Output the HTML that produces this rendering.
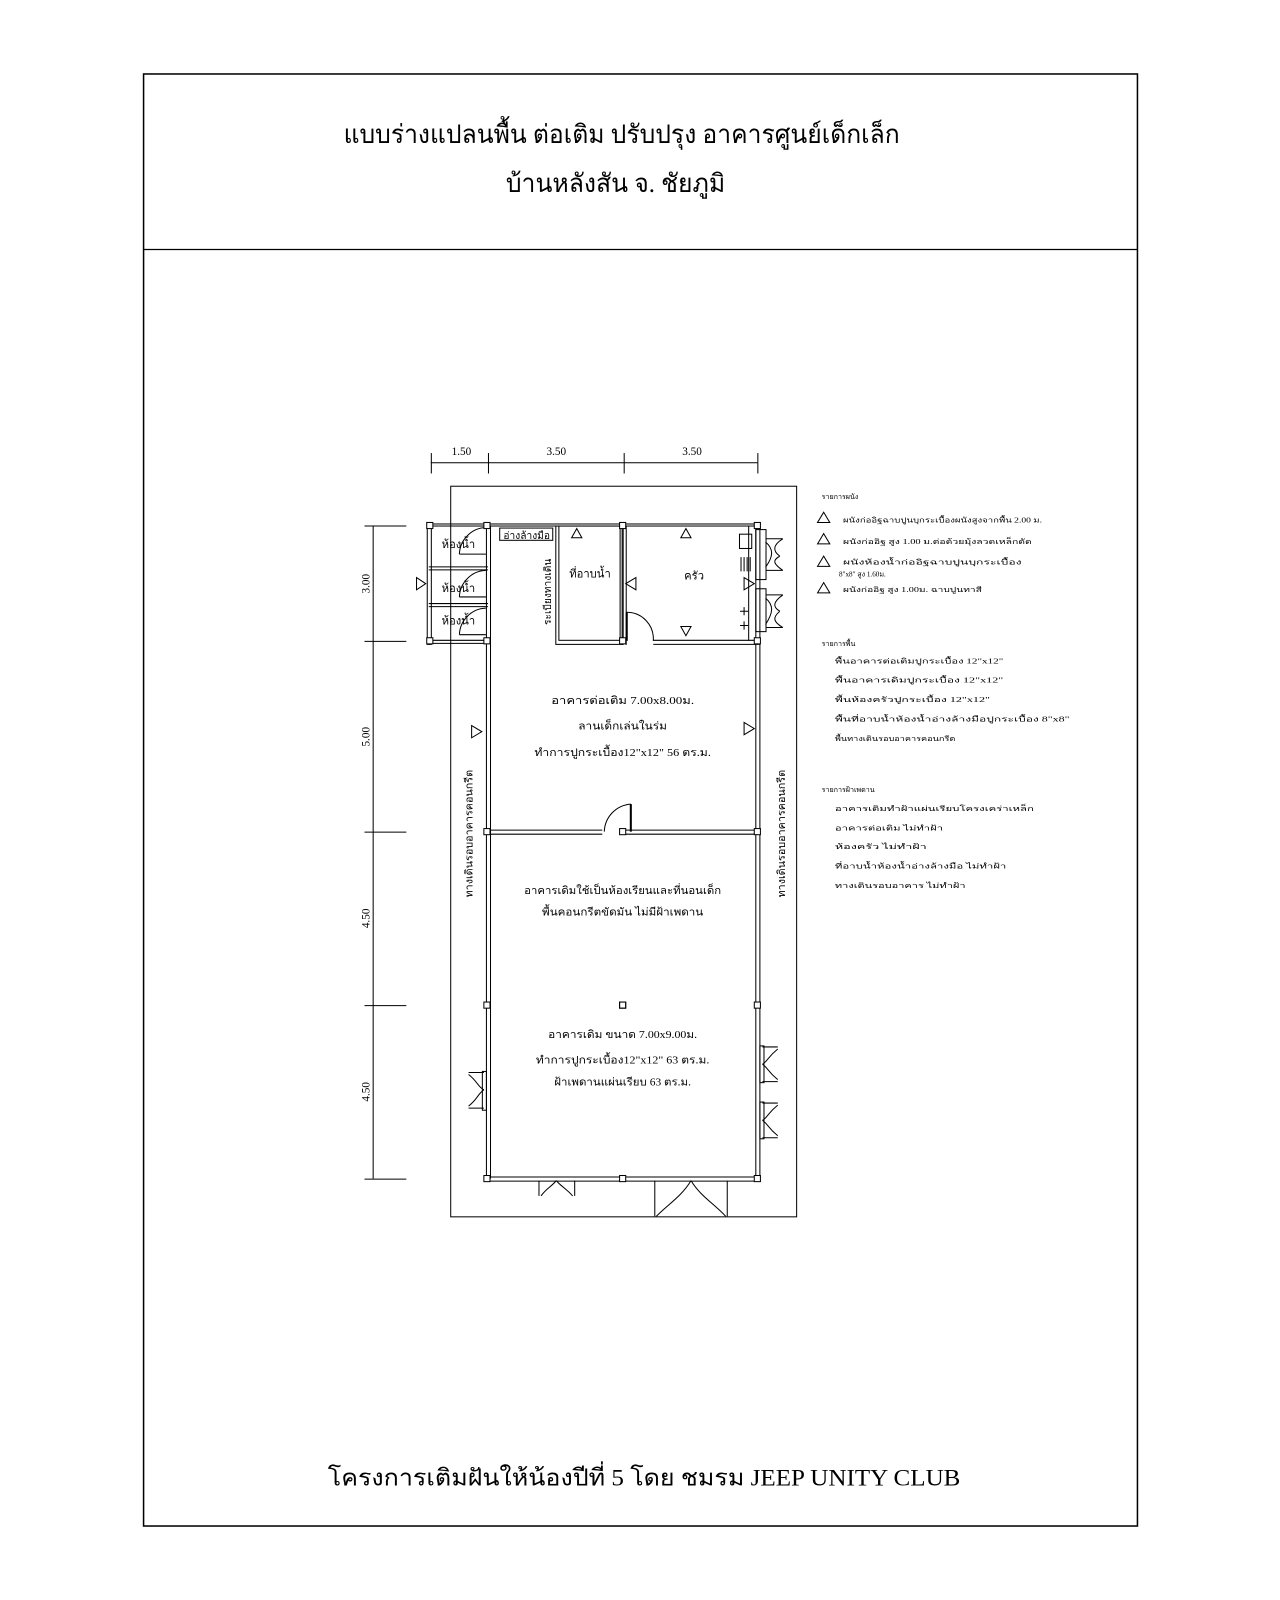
<!DOCTYPE html>
<html><head><meta charset="utf-8"><style>
html,body{margin:0;padding:0;background:#fff;width:1280px;height:1600px;overflow:hidden}
svg{display:block}
text{font-family:"Liberation Serif","DejaVu Serif",serif;fill:#000}
</style></head><body>
<svg width="1280" height="1600" viewBox="0 0 1254 1568" xmlns="http://www.w3.org/2000/svg">
<g fill="none" stroke="#000">
<rect x="140.5" y="72.5" width="974" height="1423" stroke-width="1.5"/>
<line x1="140" y1="244.5" x2="1114" y2="244.5" stroke-width="1.2"/>
</g>
<text x="609" y="140" font-size="25" text-anchor="middle" textLength="545" lengthAdjust="spacingAndGlyphs">แบบร่างแปลนพื้น ต่อเติม ปรับปรุง อาคารศูนย์เด็กเล็ก</text>
<text x="603" y="188" font-size="25" text-anchor="middle" textLength="215" lengthAdjust="spacingAndGlyphs">บ้านหลังสัน จ. ชัยภูมิ</text>
<text x="631" y="1456" font-size="23" text-anchor="middle" textLength="620" lengthAdjust="spacingAndGlyphs">โครงการเติมฝันให้น้องปีที่ 5 โดย ชมรม JEEP UNITY CLUB</text>

<g fill="none" stroke="#000" stroke-width="1">
<!-- site boundary -->
<rect x="441.5" y="476.5" width="339" height="716"/>
<!-- top dims -->
<line x1="422" y1="453.5" x2="742" y2="453.5"/>
<line x1="422.5" y1="444" x2="422.5" y2="464"/><line x1="478.5" y1="444" x2="478.5" y2="464"/>
<line x1="611.5" y1="444" x2="611.5" y2="464"/><line x1="742.5" y1="444" x2="742.5" y2="464"/>
<!-- left dims -->
<line x1="365.5" y1="515" x2="365.5" y2="1155"/>
<line x1="357" y1="515.5" x2="398" y2="515.5"/><line x1="357" y1="628.5" x2="398" y2="628.5"/>
<line x1="357" y1="815.5" x2="398" y2="815.5"/><line x1="357" y1="985.5" x2="398" y2="985.5"/>
<line x1="357" y1="1155.5" x2="398" y2="1155.5"/>
<!-- walls double lines -->
<rect x="418.5" y="513.5" width="326" height="2" />
<rect x="418.5" y="513.5" width="4" height="118"/>
<line x1="418" y1="630.5" x2="478" y2="630.5"/><line x1="418" y1="627.5" x2="478" y2="627.5"/>
<line x1="420" y1="555.5" x2="478" y2="555.5"/><line x1="420" y1="558.5" x2="478" y2="558.5"/>
<line x1="420" y1="591.5" x2="478" y2="591.5"/><line x1="420" y1="594.5" x2="478" y2="594.5"/>
<line x1="476.5" y1="515" x2="476.5" y2="1155"/><line x1="480.5" y1="515" x2="480.5" y2="1155"/>
<line x1="740.5" y1="515" x2="740.5" y2="1155"/><line x1="744.5" y1="515" x2="744.5" y2="1155"/>
<line x1="476" y1="1153.5" x2="744" y2="1153.5"/><line x1="476" y1="1157.5" x2="744" y2="1157.5"/>
<!-- bathroom room -->
<rect x="544.5" y="515.5" width="66" height="116"/><rect x="547.5" y="515.5" width="60" height="112"/>
<line x1="609.5" y1="515" x2="609.5" y2="632"/><line x1="613.5" y1="515" x2="613.5" y2="632"/>
<line x1="640" y1="627.5" x2="744" y2="627.5"/><line x1="640" y1="631.5" x2="744" y2="631.5"/>
<path d="M614 600 A26 26 0 0 1 640 628"/><line x1="614" y1="600" x2="614" y2="628" stroke-width="2"/>
<!-- sink -->
<rect x="489.5" y="517.5" width="52" height="12"/>
<!-- kitchen counter -->
<line x1="733.5" y1="515" x2="733.5" y2="628"/>
<rect x="740.5" y="519" width="10" height="49"/><rect x="740.5" y="577" width="10" height="42"/>
<rect x="724.5" y="523.5" width="12" height="14"/>
<path d="M726 546v14M729 546v14M732 546v14M735 546v14"/>
<path d="M750 528h17M750 559h17M750 531 C758 538 758 545 750 556 M767 528 C757 534 757 540 764 545 M767 559 C757 552 757 549 764 545"/>
<path d="M750 583h17M750 615h17M750 586 C758 593 758 600 750 612 M767 583 C757 590 757 595 764 599 M767 615 C757 609 757 605 764 599"/>
<path d="M725 599h8M729 595v8M725 613h8M729 609v8"/>
<!-- toilet doors -->
<path d="M450 543 A27 27 0 0 1 476 517 M450 543h26"/>
<path d="M450 585 A27 27 0 0 1 476 559 M450 585h26"/>
<path d="M450 622 A27 27 0 0 1 476 596 M450 622h26"/>
<!-- middle/lower wall -->
<line x1="476" y1="813.5" x2="590" y2="813.5"/><line x1="476" y1="817.5" x2="590" y2="817.5"/>
<line x1="610" y1="813.5" x2="744" y2="813.5"/><line x1="610" y1="817.5" x2="744" y2="817.5"/>
<path d="M592 815 A28 28 0 0 1 618 788"/><line x1="618" y1="788" x2="618" y2="815" stroke-width="2"/>
<!-- columns -->
<g fill="#fff">
<rect x="418" y="512" width="6" height="6"/><rect x="474" y="512" width="6" height="6"/><rect x="607" y="512" width="6" height="6"/><rect x="739" y="512" width="6" height="6"/>
<rect x="418" y="625" width="6" height="6"/><rect x="474" y="625" width="6" height="6"/><rect x="607" y="625" width="6" height="6"/><rect x="739" y="625" width="6" height="6"/>
<rect x="474" y="812" width="6" height="6"/><rect x="607" y="812" width="6" height="6"/><rect x="739" y="812" width="6" height="6"/>
<rect x="474" y="982" width="6" height="6"/><rect x="607" y="982" width="6" height="6"/><rect x="739" y="982" width="6" height="6"/>
<rect x="474" y="1152" width="6" height="6"/><rect x="607" y="1152" width="6" height="6"/><rect x="739" y="1152" width="6" height="6"/>
</g>
<!-- outer doors left -->
<rect x="472.5" y="1050" width="4" height="38"/>
<path d="M459 1051h15M459 1086h15M459 1053 C468 1060 468 1065 474 1068 M459 1084 C468 1077 468 1072 474 1068"/>
<!-- right doors lower -->
<rect x="744.5" y="1025" width="4" height="36"/><rect x="744.5" y="1080" width="4" height="36"/>
<path d="M747 1026h15M747 1060h15M762 1028 C752 1036 752 1040 747 1043 M762 1058 C752 1050 752 1046 747 1043"/>
<path d="M747 1081h15M747 1115h15M762 1083 C752 1091 752 1095 747 1098 M762 1113 C752 1105 752 1101 747 1098"/>
<!-- bottom doors -->
<path d="M528 1157v15M563 1157v15M530 1172 C535 1165 540 1163 545 1157 M561 1172 C555 1165 550 1163 545 1157"/>
<path d="M641.5 1157v35M712.5 1157v35M643 1192 C655 1180 668 1172 677 1157 M711 1192 C700 1180 686 1172 677 1157"/>
<rect x="607" y="982" width="6" height="6"/>
<!-- tags -->
<path d="M408 566l9 6-9 6z"/><path d="M462 711l10 6-10 6z"/><path d="M729 708l10 6-10 6z"/>
<path d="M623 566l-10 6 10 6z"/><path d="M729 566l10 6-10 6z"/>
<path d="M560 527l5-9 5 9z"/><path d="M667 527l5-9 5 9z"/><path d="M667 614l5 9 5-9z"/>
<!-- legend triangles -->
<path d="M801 512l6-10 6 10z"/><path d="M801 533l6-10 6 10z"/><path d="M801 555l6-10 6 10z"/><path d="M801 581l6-10 6 10z"/>
</g>

<g font-size="11">
<text x="452" y="446" text-anchor="middle">1.50</text>
<text x="545" y="446" text-anchor="middle">3.50</text>
<text x="678" y="446" text-anchor="middle">3.50</text>
<text transform="translate(362,572) rotate(-90)" text-anchor="middle">3.00</text>
<text transform="translate(362,722) rotate(-90)" text-anchor="middle">5.00</text>
<text transform="translate(362,900) rotate(-90)" text-anchor="middle">4.50</text>
<text transform="translate(362,1070) rotate(-90)" text-anchor="middle">4.50</text>
<text x="449" y="537" text-anchor="middle">ห้องน้ำ</text>
<text x="449" y="580" text-anchor="middle">ห้องน้ำ</text>
<text x="449" y="612" text-anchor="middle">ห้องน้ำ</text>
<text x="516" y="528" text-anchor="middle" font-size="10">อ่างล้างมือ</text>
<text x="578" y="566" text-anchor="middle">ที่อาบน้ำ</text>
<text x="680" y="568" text-anchor="middle">ครัว</text>
<text transform="translate(540,580) rotate(-90)" text-anchor="middle" font-size="10">ระเบียงทางเดิน</text>
<text x="610" y="690" text-anchor="middle" font-size="10.5" textLength="140" lengthAdjust="spacingAndGlyphs">อาคารต่อเติม 7.00x8.00ม.</text>
<text x="610" y="715" text-anchor="middle" font-size="10.5" textLength="87" lengthAdjust="spacingAndGlyphs">ลานเด็กเล่นในร่ม</text>
<text x="610" y="741" text-anchor="middle" font-size="10.5" textLength="173" lengthAdjust="spacingAndGlyphs">ทำการปูกระเบื้อง12"x12" 56 ตร.ม.</text>
<text x="610" y="876" text-anchor="middle" font-size="10.5" textLength="193" lengthAdjust="spacingAndGlyphs">อาคารเดิมใช้เป็นห้องเรียนและที่นอนเด็ก</text>
<text x="610" y="897" text-anchor="middle" font-size="10.5" textLength="158" lengthAdjust="spacingAndGlyphs">พื้นคอนกรีตขัดมัน ไม่มีฝ้าเพดาน</text>
<text x="610" y="1017" text-anchor="middle" font-size="10.5" textLength="146" lengthAdjust="spacingAndGlyphs">อาคารเดิม ขนาด 7.00x9.00ม.</text>
<text x="610" y="1042" text-anchor="middle" font-size="10.5" textLength="170" lengthAdjust="spacingAndGlyphs">ทำการปูกระเบื้อง12"x12" 63 ตร.ม.</text>
<text x="610" y="1064" text-anchor="middle" font-size="10.5" textLength="134" lengthAdjust="spacingAndGlyphs">ฝ้าเพดานแผ่นเรียบ 63 ตร.ม.</text>
<text transform="translate(463,817) rotate(-90)" text-anchor="middle" font-size="10.5" textLength="125" lengthAdjust="spacingAndGlyphs">ทางเดินรอบอาคารคอนกรีต</text>
<text transform="translate(769,817) rotate(-90)" text-anchor="middle" font-size="10.5" textLength="125" lengthAdjust="spacingAndGlyphs">ทางเดินรอบอาคารคอนกรีต</text>
</g>
<g font-size="7">
<text x="805" y="489">รายการผนัง</text>
<text x="826" y="512" textLength="195" lengthAdjust="spacingAndGlyphs">ผนังก่ออิฐฉาบปูนบุกระเบื้องผนังสูงจากพื้น 2.00 ม.</text>
<text x="826" y="533" textLength="185" lengthAdjust="spacingAndGlyphs">ผนังก่ออิฐ สูง 1.00 ม.ต่อด้วยมุ้งลวดเหล็กดัด</text>
<text x="826" y="553" textLength="175" lengthAdjust="spacingAndGlyphs">ผนังห้องน้ำก่ออิฐฉาบปูนบุกระเบื้อง</text>
<text x="822" y="565">8"x8" สูง 1.60ม.</text>
<text x="826" y="580" textLength="136" lengthAdjust="spacingAndGlyphs">ผนังก่ออิฐ สูง 1.00ม. ฉาบปูนทาสี</text>
<text x="805" y="633">รายการพื้น</text>
<text x="818" y="650" textLength="165" lengthAdjust="spacingAndGlyphs">พื้นอาคารต่อเติมปูกระเบื้อง 12"x12"</text>
<text x="818" y="669" textLength="165" lengthAdjust="spacingAndGlyphs">พื้นอาคารเดิมปูกระเบื้อง 12"x12"</text>
<text x="818" y="688" textLength="152" lengthAdjust="spacingAndGlyphs">พื้นห้องครัวปูกระเบื้อง 12"x12"</text>
<text x="818" y="707" textLength="230" lengthAdjust="spacingAndGlyphs">พื้นที่อาบน้ำห้องน้ำอ่างล้างมือปูกระเบื้อง 8"x8"</text>
<text x="818" y="726" textLength="118" lengthAdjust="spacingAndGlyphs">พื้นทางเดินรอบอาคารคอนกรีต</text>
<text x="805" y="776">รายการฝ้าเพดาน</text>
<text x="818" y="795" textLength="195" lengthAdjust="spacingAndGlyphs">อาคารเดิมทำฝ้าแผ่นเรียบโครงเคร่าเหล็ก</text>
<text x="818" y="814" textLength="106" lengthAdjust="spacingAndGlyphs">อาคารต่อเติม ไม่ทำฝ้า</text>
<text x="818" y="832" textLength="90" lengthAdjust="spacingAndGlyphs">ห้องครัว ไม่ทำฝ้า</text>
<text x="818" y="851" textLength="168" lengthAdjust="spacingAndGlyphs">ที่อาบน้ำห้องน้ำอ่างล้างมือ ไม่ทำฝ้า</text>
<text x="818" y="870" textLength="128" lengthAdjust="spacingAndGlyphs">ทางเดินรอบอาคาร ไม่ทำฝ้า</text>
</g>
</svg>
</body></html>
